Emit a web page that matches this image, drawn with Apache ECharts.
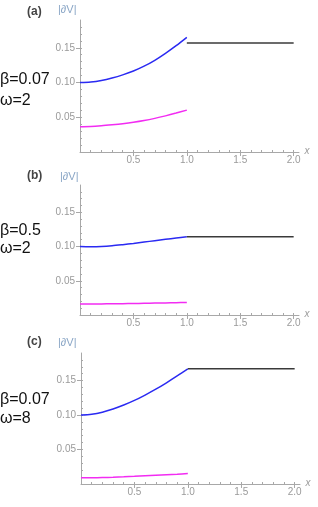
<!DOCTYPE html>
<html><head><meta charset="utf-8">
<script src="https://cdn.jsdelivr.net/npm/echarts@6/dist/echarts.min.js"></script>
<style>html,body{margin:0;padding:0;background:#fff}#c{width:318px;height:507px}</style>
</head><body><div id="c"></div>
<script>
// ---- data ----
const xInner = [0, 0.1, 0.2, 0.3, 0.4, 0.5, 0.6, 0.7, 0.8, 0.9, 1.0];
const xOuter = [1.0, 2.0];
const xTickLabels = [0.5, 1.0, 1.5, 2.0];
const yTickLabels = [0.05, 0.10, 0.15];
const xMinorTicks = [0.1,0.2,0.3,0.4,0.5,0.6,0.7,0.8,0.9,1.0,1.1,1.2,1.3,1.4,1.5,1.6,1.7,1.8,1.9,2.0];
const yMinorTicks = [0.01,0.02,0.03,0.04,0.05,0.06,0.07,0.08,0.09,0.10,0.11,0.12,0.13,0.14,0.15,0.16,0.17,0.18];

const blueA    = [0.1000, 0.1008, 0.1030, 0.1065, 0.1110, 0.1165, 0.1235, 0.1320, 0.1420, 0.1530, 0.1650];
const magentaA = [0.0365, 0.0368, 0.0378, 0.0392, 0.0408, 0.0428, 0.0453, 0.0484, 0.0520, 0.0560, 0.0603];
const blackA   = [0.157, 0.157];

const blueB    = [0.1000, 0.0999, 0.1002, 0.1012, 0.1028, 0.1046, 0.1066, 0.1086, 0.1106, 0.1126, 0.1145];
const magentaB = [0.0160, 0.0161, 0.0162, 0.0164, 0.0166, 0.0168, 0.0171, 0.0174, 0.0177, 0.0180, 0.0184];
const blackB   = [0.1145, 0.1145];

const blueC    = [0.1000, 0.1012, 0.1042, 0.1088, 0.1145, 0.1212, 0.1290, 0.1375, 0.1468, 0.1567, 0.1670];
const magentaC = [0.0090, 0.0091, 0.0094, 0.0098, 0.0104, 0.0111, 0.0119, 0.0127, 0.0135, 0.0143, 0.0152];
const blackC   = [0.167, 0.167];

const panelLabels = ['(a)', '(b)', '(c)'];
const betaLabels = ['β=0.07', 'β=0.5', 'β=0.07'];
const omegaLabels = ['ω=2', 'ω=2', 'ω=8'];
const yAxisTitle = '|∂V|';
const xAxisTitle = 'x';

// ---- layout ----
const grids = [
  {left: 80, top: 20, width: 219, height: 132},
  {left: 80, top: 185, width: 219, height: 130},
  {left: 81, top: 353, width: 219, height: 131}
];
const textPos = [
  {panel: [27, 13], title: [58, 10], beta: [0, 81], omega: [0, 102]},
  {panel: [27, 177], title: [60, 177], beta: [0, 232], omega: [0, 250]},
  {panel: [27, 343], title: [58, 343], beta: [0, 401], omega: [0, 420]}
];
const blues = [blueA, blueB, blueC];
const magentas = [magentaA, magentaB, magentaC];
const blacks = [blackA, blackB, blackC];

const AX = '#a8a8a8';
const LBL = '#9a9a9a';
const FONT = '"Liberation Sans", Arial, sans-serif';

const xAxes = [], yAxes = [], series = [], graphics = [];
grids.forEach((g, i) => {
  xAxes.push({
    gridIndex: i, type: 'value', min: 0, max: 2.05,
    axisLine: {show: true, onZero: false, lineStyle: {color: AX, width: 1}},
    axisTick: {show: true, inside: true, length: 2, customValues: xMinorTicks, lineStyle: {color: AX}},
    axisLabel: {show: true, customValues: xTickLabels, formatter: v => v.toFixed(1), color: LBL, fontSize: 10, fontFamily: FONT, margin: 3},
    splitLine: {show: false},
    name: xAxisTitle, nameLocation: 'end', nameGap: 5,
    nameTextStyle: {color: LBL, fontSize: 10, fontStyle: 'italic', fontFamily: FONT, verticalAlign: 'bottom', padding: [0,0,-4,0]}
  });
  xAxes.push({
    gridIndex: i, type: 'value', min: 0, max: 2.05,
    axisLine: {show: false},
    axisTick: {show: true, inside: true, length: 4, customValues: xTickLabels, lineStyle: {color: AX}},
    axisLabel: {show: false}, splitLine: {show: false}
  });
  yAxes.push({
    gridIndex: i, type: 'value', min: 0, max: 0.19,
    axisLine: {show: true, onZero: false, lineStyle: {color: AX, width: 1}},
    axisTick: {show: true, inside: true, length: 2, customValues: yMinorTicks, lineStyle: {color: AX}},
    axisLabel: {show: true, customValues: yTickLabels, formatter: v => v.toFixed(2), color: LBL, fontSize: 10, fontFamily: FONT, margin: 5},
    splitLine: {show: false}
  });
  yAxes.push({
    gridIndex: i, type: 'value', min: 0, max: 0.19,
    axisLine: {show: false},
    axisTick: {show: true, inside: true, length: 4, customValues: yTickLabels, lineStyle: {color: AX}},
    axisLabel: {show: false}, splitLine: {show: false}
  });
  const xi = 2 * i, yi = 2 * i;
  series.push({type: 'line', xAxisIndex: xi, yAxisIndex: yi, data: xInner.map((x, k) => [x, blues[i][k]]),
    showSymbol: false, smooth: 0.3, lineStyle: {color: '#2a2af2', width: 1.5}, silent: true, animation: false});
  series.push({type: 'line', xAxisIndex: xi, yAxisIndex: yi, data: xInner.map((x, k) => [x, magentas[i][k]]),
    showSymbol: false, smooth: 0.3, lineStyle: {color: '#f22cf2', width: 1.5}, silent: true, animation: false});
  series.push({type: 'line', xAxisIndex: xi, yAxisIndex: yi, data: xOuter.map((x, k) => [x, blacks[i][k]]),
    showSymbol: false, lineStyle: {color: '#3a3a3a', width: 1.5}, silent: true, animation: false});

  const t = textPos[i];
  graphics.push({type: 'text', left: t.panel[0], top: t.panel[1] - 7, style: {text: panelLabels[i], fill: '#444', font: 'bold 12px ' + FONT}});
  graphics.push({type: 'text', left: t.title[0], top: t.title[1] - 6, style: {text: yAxisTitle, fill: '#8aa6c6', font: '11px ' + FONT}});
  graphics.push({type: 'text', left: t.beta[0], top: t.beta[1] - 9, style: {text: betaLabels[i], fill: '#111', font: '16px ' + FONT}});
  graphics.push({type: 'text', left: t.omega[0], top: t.omega[1] - 9, style: {text: omegaLabels[i], fill: '#111', font: '16px ' + FONT}});
});

const chart = echarts.init(document.getElementById('c'), null, {renderer: 'canvas'});
chart.setOption({
  animation: false,
  backgroundColor: '#fff',
  grid: grids,
  xAxis: xAxes,
  yAxis: yAxes,
  series: series,
  graphic: graphics
});
</script>
</body></html>
